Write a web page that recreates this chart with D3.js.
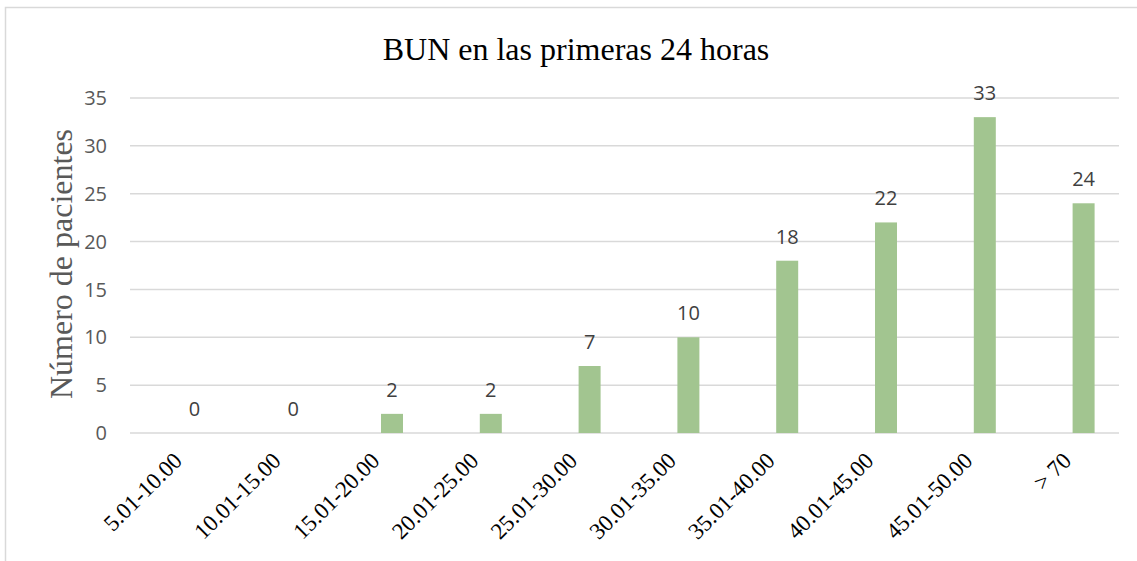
<!DOCTYPE html>
<html>
<head>
<meta charset="utf-8">
<script src="https://cdn.jsdelivr.net/npm/d3@7"></script>
<style>
  body { margin: 0; background: #fff; }
  svg { display: block; }
</style>
</head>
<body>
<div id="chart"></div>
<script>
/*  Data  */
var categories = ["5.01-10.00", "10.01-15.00", "15.01-20.00", "20.01-25.00", "25.01-30.00",
                  "30.01-35.00", "35.01-40.00", "40.01-45.00", "45.01-50.00", "> 70"];
var pacientes = [0, 0, 2, 2, 7, 10, 18, 22, 33, 24];
var yTicks = [0, 5, 10, 15, 20, 25, 30, 35];

var W = 1137, H = 561;
var sansFont = "'Open Sans', 'DejaVu Sans', sans-serif";
var serifFont = "'Liberation Serif', 'Times New Roman', serif";

var svg = d3.select("#chart").append("svg")
            .attr("width", W)
            .attr("height", H);

// chart border
svg.append("rect")
   .attr("x", 5.5).attr("y", 7.5)
   .attr("width", 1140).attr("height", 560)
   .attr("fill", "none")
   .attr("stroke", "#d9d9d9")
   .attr("stroke-width", 1.5);

var y = d3.scaleLinear().domain([0, 35]).range([433, 98]);
var x = d3.scaleBand().domain(categories).range([145, 1133]);
var barW = 22;

// gridlines
svg.selectAll(".grid").data(yTicks).enter()
   .append("line")
   .attr("x1", 130).attr("x2", 1119)
   .attr("y1", function(d){ return y(d); })
   .attr("y2", function(d){ return y(d); })
   .attr("stroke", "#d9d9d9")
   .attr("stroke-width", 1.5);

// y tick labels
svg.selectAll(".ytick").data(yTicks).enter()
   .append("text")
   .attr("x", 107)
   .attr("y", function(d){ return y(d); })
   .attr("dy", "0.36em")
   .attr("text-anchor", "end")
   .style("font-family", sansFont)
   .style("font-size", "20px")
   .attr("fill", "#595959")
   .text(function(d){ return d; });

// bars
svg.selectAll(".bar").data(pacientes).enter()
   .append("rect")
   .attr("x", function(d, i){ return x(categories[i]) + x.bandwidth()/2 - barW/2; })
   .attr("y", function(d){ return y(d); })
   .attr("width", barW)
   .attr("height", function(d){ return y(0) - y(d); })
   .attr("fill", "#a2c590");

// data labels
svg.selectAll(".lbl").data(pacientes).enter()
   .append("text")
   .attr("x", function(d, i){ return x(categories[i]) + x.bandwidth()/2; })
   .attr("y", function(d){ return y(d) - 17; })
   .attr("text-anchor", "middle")
   .style("font-family", sansFont)
   .style("font-size", "20px")
   .attr("fill", "#404040")
   .text(function(d){ return d; });

// x labels, rotated
svg.selectAll(".xlbl").data(categories).enter()
   .append("text")
   .attr("transform", function(d){
      return "translate(" + (x(d) + x.bandwidth()/2 - 11) + ",462) rotate(-45)";
   })
   .attr("text-anchor", "end")
   .style("font-family", serifFont)
   .style("font-size", "23px")
   .attr("fill", "#000")
   .text(function(d){ return d; });

// title
svg.append("text")
   .attr("x", 576).attr("y", 60)
   .attr("text-anchor", "middle")
   .style("font-family", serifFont)
   .style("font-size", "32px")
   .attr("fill", "#000")
   .text("BUN en las primeras 24 horas");

// y axis title
svg.append("text")
   .attr("transform", "translate(72,264) rotate(-90)")
   .attr("text-anchor", "middle")
   .style("font-family", serifFont)
   .style("font-size", "32px")
   .attr("fill", "#595959")
   .text("Número de pacientes");
</script>
</body>
</html>
